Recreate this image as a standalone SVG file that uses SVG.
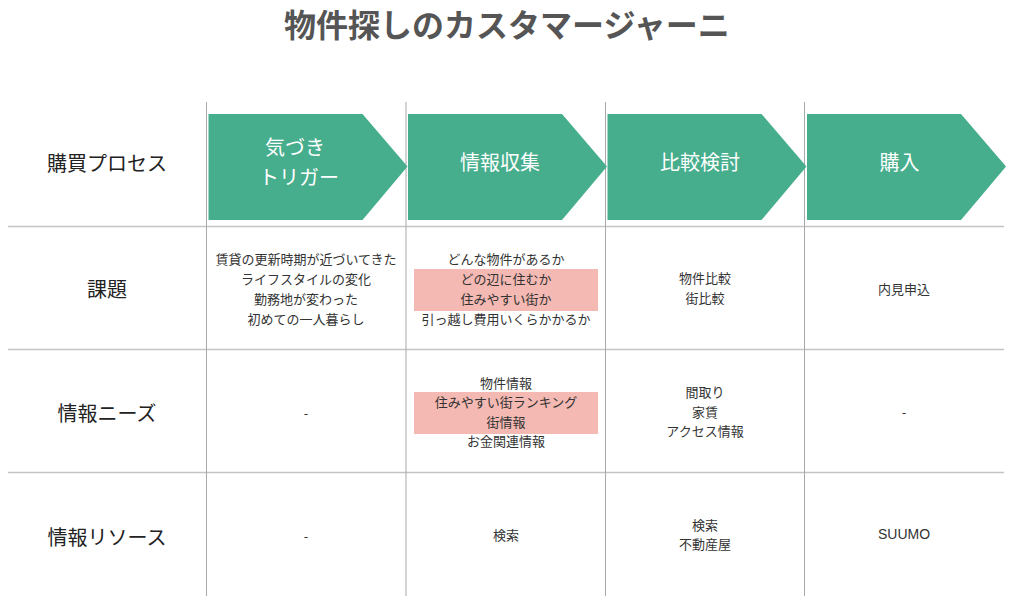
<svg xmlns="http://www.w3.org/2000/svg" width="1025" height="602" viewBox="0 0 1025 602">
<style>
text{font-family:"Noto Sans CJK JP","Noto Sans",sans-serif;dominant-baseline:central;text-anchor:middle}
.title{font-size:32px;font-weight:bold;fill:#555}
.row{font-size:20px;fill:#222}
.chev{fill:#46ae8d}
.ct{font-size:20px;fill:#fff}
.cell{font-size:13px;fill:#333}
.latin{font-family:"Liberation Sans",Arial,sans-serif;font-size:14px}
.hl{fill:#f4b9b2}
.vl{stroke:#a8a8a8;stroke-width:1}
.hln{stroke:#c4c4c4;stroke-width:1.3}
</style>
<rect width="1025" height="602" fill="#fff"/>
<text class="title" x="507" y="23">物件探しのカスタマージャーニ</text>

<g id="connectors">
<line class="hln" x1="8" y1="226.5" x2="1004" y2="226.5"/>
<line class="hln" x1="8" y1="349.5" x2="1004" y2="349.5"/>
<line class="hln" x1="8" y1="472.5" x2="1004" y2="472.5"/>
<line class="vl" x1="206.5" y1="102" x2="206.5" y2="596"/>
<line class="vl" x1="406" y1="102" x2="406" y2="596"/>
<line class="vl" x1="605.5" y1="102" x2="605.5" y2="596"/>
<line class="vl" x1="804.5" y1="102" x2="804.5" y2="596"/>
</g>

<g id="row-labels">
<text class="row" x="107" y="162">購買プロセス</text>
<text class="row" x="107" y="288">課題</text>
<text class="row" x="107" y="412">情報ニーズ</text>
<text class="row" x="107" y="536">情報リソース</text>
</g>

<g id="stage1">
<polygon class="chev" points="208.5,114 362.5,114 407.5,166.5 362.5,220 208.5,220"/>
<text class="ct" x="295" y="146">気づき</text>
<text class="ct" x="299" y="176">トリガー</text>
</g>
<g id="stage2">
<polygon class="chev" points="408,114 562,114 607,166.5 562,220 408,220"/>
<text class="ct" x="500" y="161">情報収集</text>
</g>
<g id="stage3">
<polygon class="chev" points="607.5,114 761.5,114 806.5,166.5 761.5,220 607.5,220"/>
<text class="ct" x="700" y="161">比較検討</text>
</g>
<g id="stage4">
<polygon class="chev" points="807,114 961,114 1006,166.5 961,220 807,220"/>
<text class="ct" x="899.5" y="161">購入</text>
</g>

<g id="issue1">
<text class="cell" x="306" y="258">賃貸の更新時期が近づいてきた</text>
<text class="cell" x="306" y="278">ライフスタイルの変化</text>
<text class="cell" x="306" y="298">勤務地が変わった</text>
<text class="cell" x="306" y="318">初めての一人暮らし</text>
</g>
<g id="issue2">
<rect class="hl" x="414" y="269" width="184" height="42"/>
<text class="cell" x="506" y="258">どんな物件があるか</text>
<text class="cell" x="506" y="278">どの辺に住むか</text>
<text class="cell" x="506" y="298">住みやすい街か</text>
<text class="cell" x="506" y="318">引っ越し費用いくらかかるか</text>
</g>
<g id="issue3">
<text class="cell" x="705" y="277">物件比較</text>
<text class="cell" x="705" y="297">街比較</text>
</g>
<g id="issue4">
<text class="cell" x="904" y="288">内見申込</text>
</g>

<g id="needs1">
<text class="cell" x="306" y="412">-</text>
</g>
<g id="needs2">
<rect class="hl" x="414" y="392" width="184" height="42"/>
<text class="cell" x="506" y="382">物件情報</text>
<text class="cell" x="506" y="401">住みやすい街ランキング</text>
<text class="cell" x="506" y="421">街情報</text>
<text class="cell" x="506" y="440">お金関連情報</text>
</g>
<g id="needs3">
<text class="cell" x="705" y="391">間取り</text>
<text class="cell" x="705" y="411">家賃</text>
<text class="cell" x="705" y="430">アクセス情報</text>
</g>
<g id="needs4">
<text class="cell" x="904" y="411">-</text>
</g>

<g id="resource1">
<text class="cell" x="306" y="535">-</text>
</g>
<g id="resource2">
<text class="cell" x="506" y="534">検索</text>
</g>
<g id="resource3">
<text class="cell" x="705" y="524">検索</text>
<text class="cell" x="705" y="543">不動産屋</text>
</g>
<g id="resource4">
<text class="cell latin" x="904" y="534">SUUMO</text>
</g>
</svg>
